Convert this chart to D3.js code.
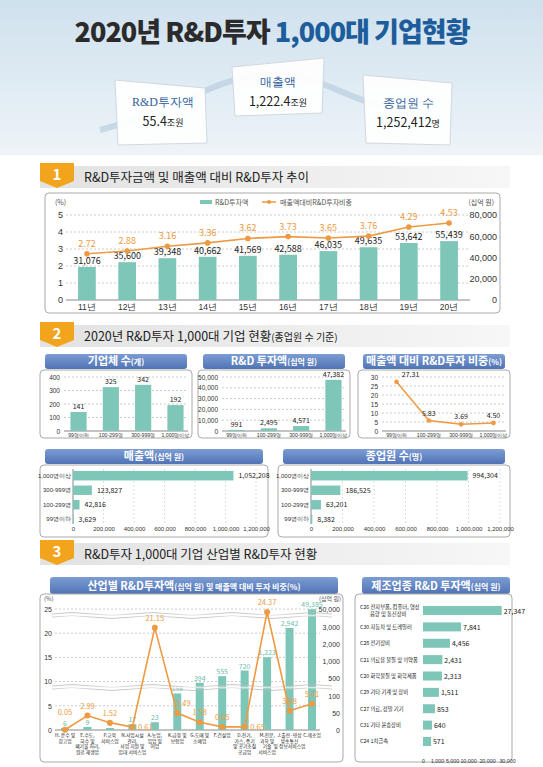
<!DOCTYPE html>
<html><head><meta charset="utf-8">
<script src="https://cdn.jsdelivr.net/npm/d3@7"></script>
<style>body{margin:0;background:#fff}svg{display:block;font-family:"Noto Sans CJK KR","Noto Sans",sans-serif}</style>
</head><body><svg id="c" width="543" height="767"></svg>
<script>
// ---------- data ----------
const years = ["11년","12년","13년","14년","15년","16년","17년","18년","19년","20년"];
const rdAmount = [31076,35600,39348,40662,41569,42588,46035,49635,53642,55439];
const rdRatio = [2.72,2.88,3.16,3.36,3.62,3.73,3.65,3.76,4.29,4.53];

const sizeCats = ["99명이하","100-299명","300-999명","1,000명이상"];
const firmCount = [141,325,342,192];
const sizeRd = [991,2495,4571,47382];
const sizeRatio = [27.31,5.83,3.69,4.50];
const sizeSales = [3629,42816,123827,1052208];
const sizeEmp = [8382,63201,186525,994304];

const indCats = [["H. 운수 및","창고업"],["E.수도,","하수 및","폐기물 처리,","원료 재생업"],["P.교육","서비스업"],["N.사업시설","관리,","사업 지원 및","임대 서비스업"],["A.농업,","임업 및","어업"],["K.금융 및","보험업"],["G.도매 및","소매업"],["F.건설업"],["D.전기,","가스, 증기","및 공기조절","공급업"],["M.전문,","과학 및","기술","서비스업"],["J.출판·영상","방송통신","및 정보서비스업"],["C.제조업"]];
const indRd = [6,9,6,17,23,156,394,555,720,1223,2942,49385];
const indRatio = [0.05,2.99,1.52,0.61,21.15,3.49,1.58,0.65,0.65,24.37,3.98,5.41];
const indRdTicks = [0,50,100,500,1000,2000,3000,50000];

const mfgCats = [["C26 전자부품, 컴퓨터, 영상","음향 및 통신장비"],["C30 자동차 및 트레일러"],["C28 전기장비"],["C21 의료용 물질 및 의약품"],["C20 화학물질 및 화학제품"],["C29 기타 기계 및 장비"],["C27 의료, 정밀 기기"],["C31 기타 운송장비"],["C24 1차금속"]];
const mfgRd = [27347,7841,4456,2431,2313,1511,853,640,571];
const mfgTicks = [0,1000,5000,10000,20000,30000];

const TEAL="#7ec6b8", ORANGE="#ee9a43", BLUE="#1d5d9b";
const svg=d3.select("#c");
const fmt=d3.format(",");
const defs=svg.append("defs");
const sky=defs.append("linearGradient").attr("id","sky").attr("x1",0).attr("y1",0).attr("x2",0).attr("y2",1);
sky.append("stop").attr("offset",0).attr("stop-color","#cfe1ee");
sky.append("stop").attr("offset",1).attr("stop-color","#eef4f8");
const hd=defs.append("linearGradient").attr("id","hd");
hd.append("stop").attr("offset",0).attr("stop-color","#e2e2e2");
hd.append("stop").attr("offset",1).attr("stop-color","#f7f7f7");
const tb=defs.append("linearGradient").attr("id","tb").attr("x1",0).attr("y1",0).attr("x2",0).attr("y2",1);
tb.append("stop").attr("offset",0).attr("stop-color","#7c9dd3");
tb.append("stop").attr("offset",1).attr("stop-color","#5073b5");

// ---------- header ----------
svg.append("rect").attr("width",543).attr("height",155).attr("fill","url(#sky)");
svg.append("path").attr("d","M100,130 C180,110 210,80 260,75 C320,70 340,100 400,110").attr("fill","none").attr("stroke","#b9cfe0").attr("stroke-width",6).attr("opacity",.7);
const t=svg.append("text").attr("x",272).attr("y",42).attr("text-anchor","middle").attr("font-size",27).attr("font-weight",900).attr("letter-spacing",-1);
t.append("tspan").attr("fill","#2b2b2b").text("2020년 R&D투자 ");
t.append("tspan").attr("fill",BLUE).text("1,000대 기업현황");
const cards=[{p:"115,80 205,88 207,143 118,145",l:"R&D투자액",v:"55.4",u:"조원",x:163,y:106},
 {p:"232,67 324,58 322,113 235,116",l:"매출액",v:"1,222.4",u:"조원",x:278,y:86},
 {p:"363,75 452,83 450,145 366,143",l:"종업원 수",v:"1,252,412",u:"명",x:408,y:107}];
cards.forEach(c=>{
 svg.append("polygon").attr("points",c.p).attr("fill","#fff").attr("stroke","#d0d8e0").attr("opacity",.95);
 svg.append("text").attr("x",c.x).attr("y",c.y).attr("text-anchor","middle").attr("font-size",12).attr("fill","#2f5f9a").attr("font-family","serif").text(c.l);
 const v=svg.append("text").attr("x",c.x).attr("y",c.y+20).attr("text-anchor","middle").attr("font-size",12.5).attr("fill","#222");
 v.append("tspan").text(c.v); v.append("tspan").attr("font-size",9).text(c.u);
});

function section(y,num,title,sub){
 svg.append("rect").attr("x",40).attr("y",y+3).attr("width",470).attr("height",22).attr("fill","url(#hd)");
 svg.append("path").attr("d",`M40,${y} L74,${y} L74,${y+18} L57,${y+25} L40,${y+18}Z`).attr("fill","#f2a51c");
 svg.append("text").attr("x",57).attr("y",y+17).attr("text-anchor","middle").attr("fill","#fff").attr("font-size",15).attr("font-weight",700).text(num);
 const tt=svg.append("text").attr("x",84).attr("y",y+19).attr("font-size",12.5).attr("fill","#222").text(title);
 if(sub) tt.append("tspan").attr("font-size",10).text(sub);
}
function box(x,y,w,h){svg.append("rect").attr("x",x).attr("y",y).attr("width",w).attr("height",h).attr("rx",4).attr("fill","#fff").attr("stroke","#aaa");}
function tab(x,y,w,h,txt,sub){
 svg.append("rect").attr("x",x).attr("y",y).attr("width",w).attr("height",h).attr("rx",3).attr("fill","url(#tb)");
 const tt=svg.append("text").attr("x",x+w/2).attr("y",y+h-4).attr("text-anchor","middle").attr("fill","#fff").attr("font-size",11).attr("font-weight",700).text(txt);
 if(sub) tt.append("tspan").attr("font-size",8).text(sub);
}
function grid(g,y,ticks,x1,x2){g.selectAll(null).data(ticks).join("line").attr("x1",x1).attr("x2",x2).attr("y1",d=>y(d)).attr("y2",d=>y(d)).attr("stroke","#ccc").attr("stroke-dasharray","2,2");}
function styleAxis(g,fs){g.select(".domain").remove();g.selectAll(".tick line").remove();g.selectAll("text").attr("font-size",fs).attr("fill","#333");}

// ---------- section 1 ----------
section(163,"1","R&D투자금액 및 매출액 대비 R&D투자 추이");
box(45,193,455,120);
{
 const g=svg.append("g");
 const x=d3.scaleBand().domain(years).range([66,470]).paddingInner(0.56).paddingOuter(0.3);
 const yl=d3.scaleLinear().domain([0,5]).range([300,215]);
 const yr=d3.scaleLinear().domain([0,80000]).range([300,215]);
 grid(g,yl,[1,2,3,4,5],66,470);
 g.append("line").attr("x1",66).attr("x2",470).attr("y1",300).attr("y2",300).attr("stroke","#888");
 g.append("g").attr("transform","translate(66,0)").call(d3.axisLeft(yl).ticks(5)).call(a=>styleAxis(a,9)).selectAll("text").attr("x",-3);
 g.append("g").attr("transform","translate(497,0)").call(d3.axisLeft(yr).tickValues([0,20000,40000,60000,80000]).tickFormat(fmt)).call(a=>styleAxis(a,9)).selectAll("text").attr("x",0);
 g.append("g").attr("transform","translate(0,300)").call(d3.axisBottom(x)).call(a=>styleAxis(a,8.5)).selectAll("text").attr("y",4);
 g.selectAll(".b").data(rdAmount).join("rect").attr("x",(d,i)=>x(years[i])).attr("width",x.bandwidth()).attr("y",d=>yr(d)).attr("height",d=>300-yr(d)).attr("fill",TEAL);
 g.selectAll(".bl").data(rdAmount).join("text").attr("x",(d,i)=>x(years[i])+x.bandwidth()/2).attr("y",d=>yr(d)-3).attr("text-anchor","middle").attr("font-size",9).attr("fill","#222").text(fmt);
 const cx=(d,i)=>x(years[i])+x.bandwidth()/2;
 g.append("path").datum(rdRatio).attr("d",d3.line().x(cx).y(d=>yl(d))).attr("fill","none").attr("stroke",ORANGE).attr("stroke-width",1.6);
 g.selectAll(".p").data(rdRatio).join("circle").attr("cx",cx).attr("cy",d=>yl(d)).attr("r",2.8).attr("fill",ORANGE);
 g.selectAll(".pl").data(rdRatio).join("text").attr("x",cx).attr("y",d=>yl(d)-7).attr("text-anchor","middle").attr("font-size",9).attr("fill",ORANGE).text(d=>d.toFixed(2));
 svg.append("text").attr("x",55).attr("y",205).attr("font-size",7).attr("fill","#555").text("(%)");
 svg.append("text").attr("x",494).attr("y",205).attr("text-anchor","end").attr("font-size",7).attr("fill","#555").text("(십억 원)");
 svg.append("rect").attr("x",200).attr("y",200).attr("width",12).attr("height",4).attr("fill",TEAL);
 svg.append("text").attr("x",215).attr("y",205).attr("font-size",7).attr("fill","#555").text("R&D투자액");
 svg.append("line").attr("x1",262).attr("x2",276).attr("y1",202).attr("y2",202).attr("stroke",ORANGE).attr("stroke-width",1.5);
 svg.append("circle").attr("cx",269).attr("cy",202).attr("r",2).attr("fill",ORANGE);
 svg.append("text").attr("x",280).attr("y",205).attr("font-size",7).attr("fill","#555").text("매출액대비R&D투자비중");
}

// ---------- section 2 ----------
section(322,"2","2020년 R&D투자 1,000대 기업 현황","(종업원 수 기준)");
function smallBar(x0,title,sub,vals,dom,ticks,line){
 tab(x0+5,354,142,15,title,sub);
 box(x0,370,152,68);
 const g=svg.append("g");
 const x=d3.scaleBand().domain(sizeCats).range([x0+24,x0+150]).paddingInner(0.5).paddingOuter(0.2);
 const y=d3.scaleLinear().domain(dom).range([431,377]);
 grid(g,y,ticks.slice(1),x0+24,x0+148);
 g.append("line").attr("x1",x0+24).attr("x2",x0+148).attr("y1",431).attr("y2",431).attr("stroke","#888");
 g.append("g").attr("transform",`translate(${x0+20},0)`).call(d3.axisLeft(y).tickValues(ticks).tickFormat(fmt)).call(a=>styleAxis(a,6.5)).selectAll("text").attr("x",0);
 g.append("g").attr("transform","translate(0,431)").call(d3.axisBottom(x)).call(a=>styleAxis(a,5.2)).selectAll("text").attr("y",2);
 const cx=(d,i)=>x(sizeCats[i])+x.bandwidth()/2;
 if(!line){
  g.selectAll(".b").data(vals).join("rect").attr("x",(d,i)=>x(sizeCats[i])).attr("width",x.bandwidth()).attr("y",d=>y(d)).attr("height",d=>431-y(d)).attr("fill",TEAL);
  g.selectAll(".t").data(vals).join("text").attr("x",cx).attr("y",d=>y(d)-3).attr("text-anchor","middle").attr("font-size",7).attr("fill","#222").text(fmt);
 } else {
  g.append("path").datum(vals).attr("d",d3.line().x(cx).y(d=>y(d))).attr("fill","none").attr("stroke",ORANGE).attr("stroke-width",1.5);
  g.selectAll(".p").data(vals).join("circle").attr("cx",cx).attr("cy",d=>y(d)).attr("r",2.3).attr("fill",ORANGE);
  g.selectAll(".t").data(vals).join("text").attr("x",(d,i)=>cx(d,i)+(i==0?14:0)).attr("y",d=>y(d)-5).attr("text-anchor","middle").attr("font-size",7).attr("fill","#222").text(d=>d.toFixed(2));
 }
}
smallBar(40,"기업체 수","(개)",firmCount,[0,400],[0,100,200,300,400]);
smallBar(198,"R&D 투자액","(십억 원)",sizeRd,[0,50000],[0,10000,20000,30000,40000,50000]);
smallBar(358,"매출액 대비 R&D투자 비중","(%)",sizeRatio,[0,30],[0,5,10,15,20,25,30],true);

function hBar(x0,w,title,sub,vals,x1){
 tab(x0+5,449,w-10,15,title,sub);
 box(x0,465,w,72);
 const g=svg.append("g");
 const order=sizeCats.slice().reverse();
 const y=d3.scaleBand().domain(order).range([471,524]).paddingInner(0.35);
 const x=d3.scaleLinear().domain([0,1200000]).range([x0+33,x1]);
 const xt=[0,200000,400000,600000,800000,1000000,1200000];
 g.selectAll(null).data(xt.slice(1)).join("line").attr("x1",d=>x(d)).attr("x2",d=>x(d)).attr("y1",469).attr("y2",524).attr("stroke","#ddd").attr("stroke-dasharray","2,2");
 g.append("line").attr("x1",x(0)).attr("x2",x(0)).attr("y1",469).attr("y2",524).attr("stroke","#888");
 g.append("g").attr("transform",`translate(${x(0)-1},0)`).call(d3.axisLeft(y)).call(a=>styleAxis(a,6)).selectAll("text").attr("x",-1);
 g.append("g").attr("transform","translate(0,524)").call(d3.axisBottom(x).tickValues(xt).tickFormat(fmt)).call(a=>styleAxis(a,6)).selectAll("text").attr("y",3);
 g.selectAll(".b").data(vals).join("rect").attr("y",(d,i)=>y(sizeCats[i])).attr("height",y.bandwidth()).attr("x",x(0)).attr("width",d=>x(d)-x(0)).attr("fill",TEAL);
 g.selectAll(".t").data(vals).join("text").attr("y",(d,i)=>y(sizeCats[i])+y.bandwidth()/2+2.5).attr("x",d=>x(d)+5).attr("font-size",7).attr("fill","#222").text(fmt);
}
hBar(40,228,"매출액","(십억 원)",sizeSales,256);
hBar(278,232,"종업원 수","(명)",sizeEmp,500);

// ---------- section 3 ----------
section(540,"3","R&D투자 1,000대 기업 산업별 R&D투자 현황");
tab(50,577,288,17,"산업별 R&D투자액","(십억 원) 및 매출액 대비 투자 비중(%)");
box(40,594,303,168);
{
 const g=svg.append("g");
 const x=d3.scalePoint().domain(d3.range(indCats.length)).range([65,312]);
 const yl=d3.scaleLinear().domain([0,25]).range([730,609]);
 const yr=d3.scaleLinear().domain(indRdTicks).range([730,713,696,678,661,644,627,609]);
 grid(g,yl,[5,10,15,20,25],55,320);
 g.append("line").attr("x1",55).attr("x2",320).attr("y1",730).attr("y2",730).attr("stroke","#888");
 g.append("g").attr("transform","translate(52,0)").call(d3.axisLeft(yl).tickValues([0,5,10,15,20,25])).call(a=>styleAxis(a,7)).selectAll("text").attr("x",0);
 g.append("g").attr("transform","translate(340,0)").call(d3.axisLeft(yr).tickValues(indRdTicks).tickFormat(fmt)).call(a=>styleAxis(a,7)).selectAll("text").attr("x",0);
 svg.append("text").attr("x",44).attr("y",601).attr("font-size",6).attr("fill","#555").text("(%)");
 svg.append("text").attr("x",341).attr("y",601).attr("text-anchor","end").attr("font-size",6).attr("fill","#555").text("(십억 원)");
 const bw=8;
 g.selectAll(".b").data(indRd).join("rect").attr("x",(d,i)=>x(i)-bw/2).attr("width",bw).attr("y",d=>yr(d)).attr("height",d=>730-yr(d)).attr("fill",TEAL);
 g.selectAll(".bt").data(indRd).join("text").attr("x",(d,i)=>x(i)).attr("y",d=>yr(d)-2).attr("text-anchor","middle").attr("font-size",7).attr("fill","#6cbcaa").text(fmt);
 [614,686].forEach(yy=>{[0,3].forEach(o=>g.append("path").attr("d",`M52,${yy+o} q20,-3 40,0 t40,0 t40,0 t40,0 t40,0 t40,0 t40,0`).attr("fill","none").attr("stroke","#bbb").attr("stroke-width",0.8));
   g.append("rect").attr("x",52).attr("y",yy+0.6).attr("width",290).attr("height",1.8).attr("fill","#fff").attr("opacity",.6);});
 g.append("path").datum(indRatio).attr("d",d3.line().x((d,i)=>x(i)).y(d=>yl(d))).attr("fill","none").attr("stroke",ORANGE).attr("stroke-width",1.6);
 g.selectAll(".p").data(indRatio).join("circle").attr("cx",(d,i)=>x(i)).attr("cy",d=>yl(d)).attr("r",3).attr("fill",ORANGE);
 g.selectAll(".pt").data(indRatio).join("text").attr("x",(d,i)=>x(i)+(i==3||i==8?13:i==5?6:0)).attr("y",(d,i)=>i==3||i==8?yl(d)+3:yl(d)-(i==0?15:7)).attr("text-anchor","middle").attr("font-size",7.5).attr("fill",ORANGE).text(d=>d.toFixed(2));
 const lab=g.selectAll(".xl").data(indCats).join("text").attr("x",(d,i)=>x(i)).attr("y",737).attr("text-anchor","middle").attr("font-size",4.8).attr("fill","#222");
 lab.each(function(d){const s=d3.select(this);d.forEach((l,j)=>s.append("tspan").attr("x",s.attr("x")).attr("dy",j?5.5:0).text(l));});
}
tab(362,577,148,17,"제조업종 R&D 투자액","(십억 원)");
box(355,594,157,168);
{
 const g=svg.append("g");
 const y=d3.scaleBand().domain(d3.range(mfgCats.length)).range([606,746]).paddingInner(0.45);
 const x=d3.scaleLinear().domain(mfgTicks).range([423,437,452,468,487,507]);
 g.append("g").attr("transform","translate(0,750)").call(d3.axisBottom(x).tickValues(mfgTicks).tickFormat(fmt)).call(a=>styleAxis(a,5.3));
 g.selectAll(".b").data(mfgRd).join("rect").attr("x",x(0)).attr("y",(d,i)=>y(i)).attr("height",y.bandwidth()).attr("width",d=>x(d)-x(0)).attr("fill",TEAL);
 g.selectAll(".t").data(mfgRd).join("text").attr("x",d=>x(d)+2).attr("y",(d,i)=>y(i)+y.bandwidth()/2+3).attr("font-size",7).attr("fill","#222").text(fmt);
 const lab=g.selectAll(".l").data(mfgCats).join("text").attr("x",360).attr("y",(d,i)=>y(i)+y.bandwidth()/2+2-(d.length>1?3.5:0)).attr("font-size",5.3).attr("fill","#222");
 lab.each(function(d){const s=d3.select(this);d.forEach((l,j)=>s.append("tspan").attr("x",j?370:360).attr("dy",j?7:0).text(l));});
}
</script></body></html>
